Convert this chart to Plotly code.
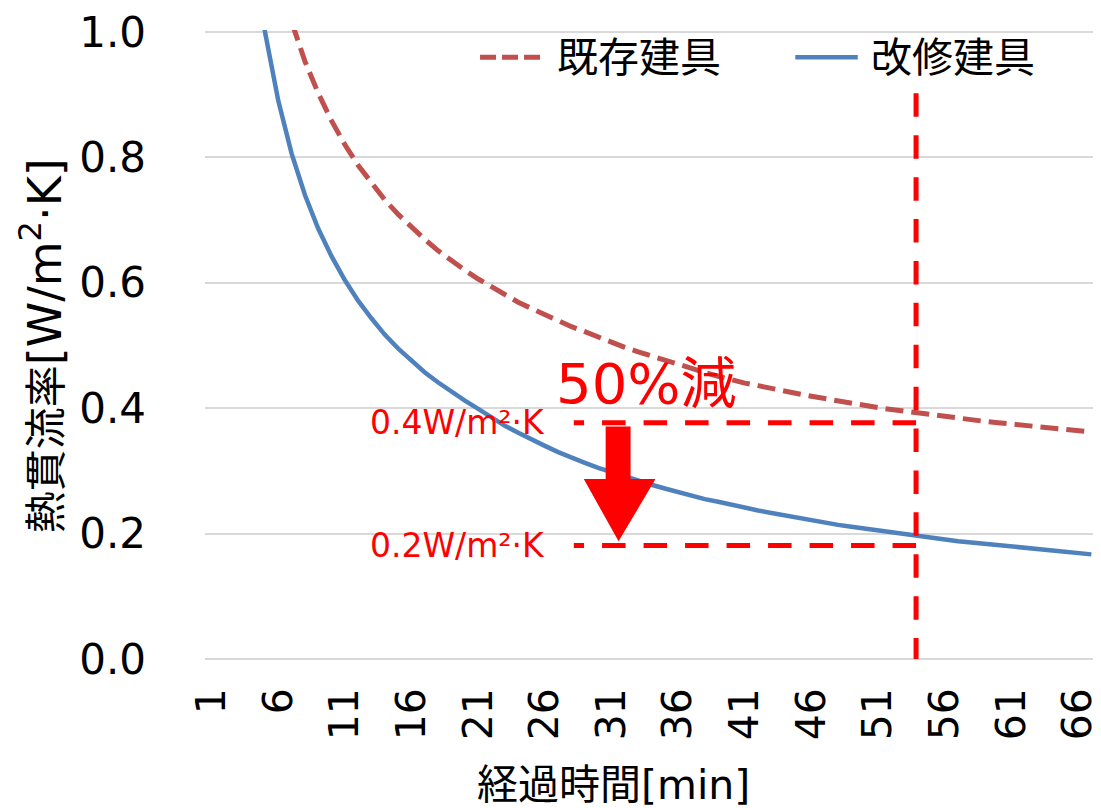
import plotly.graph_objects as go

# elapsed time categories [min]
minutes = list(range(1, 68))

# heat transmission rate [W/m2K], existing fittings (red dashed)
existing = [
    2.58, 1.853, 1.525, 1.329, 1.194, 1.094, 1.016, 0.953, 0.902, 0.858,
    0.820, 0.787, 0.758, 0.732, 0.709, 0.688, 0.669, 0.651, 0.635, 0.620,
    0.606, 0.593, 0.581, 0.569, 0.559, 0.549, 0.539, 0.530, 0.522, 0.513,
    0.506, 0.497, 0.490, 0.483, 0.476, 0.469, 0.463, 0.457, 0.451, 0.445,
    0.440, 0.436, 0.431, 0.427, 0.423, 0.419, 0.415, 0.412, 0.408, 0.405,
    0.401, 0.398, 0.395, 0.392, 0.389, 0.387, 0.384, 0.382, 0.379, 0.377,
    0.375, 0.372, 0.370, 0.368, 0.366, 0.364, 0.362,
]

# heat transmission rate [W/m2K], renovated fittings (blue solid)
renovated = [
    2.80, 1.80, 1.387, 1.153, 1.000, 0.890, 0.806, 0.740, 0.686, 0.642,
    0.604, 0.571, 0.543, 0.517, 0.495, 0.475, 0.457, 0.441, 0.426, 0.412,
    0.399, 0.385, 0.372, 0.361, 0.350, 0.340, 0.330, 0.321, 0.313, 0.305,
    0.298, 0.291, 0.284, 0.278, 0.272, 0.266, 0.261, 0.255, 0.251, 0.246,
    0.241, 0.237, 0.233, 0.229, 0.225, 0.221, 0.218, 0.214, 0.211, 0.208,
    0.205, 0.202, 0.199, 0.196, 0.194, 0.191, 0.188, 0.186, 0.184, 0.181,
    0.179, 0.177, 0.175, 0.173, 0.171, 0.169, 0.167,
]

x_ticks = list(range(1, 67, 5))
y_ticks = [0.0, 0.2, 0.4, 0.6, 0.8, 1.0]

# annotation markers
mark_time = 53.85
mark_high = 0.377
mark_low = 0.181
guide_start = 28.17

FONT = "DejaVu Sans, Noto Sans CJK JP, sans-serif"
RED_LINE = "#C0504D"
BLUE_LINE = "#4F81BD"
MARK_RED = "#FF0000"
GRID = "#D9D9D9"

fig = go.Figure()

fig.add_trace(
    go.Scatter(
        x=minutes,
        y=existing,
        mode="lines",
        name="既存建具",
        line={"color": RED_LINE, "width": 5, "dash": "18px,8px"},
        showlegend=False,
    )
)
fig.add_trace(
    go.Scatter(
        x=minutes,
        y=renovated,
        mode="lines",
        name="改修建具",
        line={"color": BLUE_LINE, "width": 4.5},
        showlegend=False,
    )
)

shapes = [
    # vertical marker
    {"type": "line", "xref": "x", "yref": "y", "x0": mark_time, "x1": mark_time,
     "y0": 0.902, "y1": 0.0,
     "line": {"color": MARK_RED, "width": 5, "dash": "23.5px,18.4px"}},
    # horizontal guides
    {"type": "line", "xref": "x", "yref": "y", "x0": mark_time, "x1": guide_start,
     "y0": mark_high, "y1": mark_high,
     "line": {"color": MARK_RED, "width": 5, "dash": "23.5px,18px"}},
    {"type": "line", "xref": "x", "yref": "y", "x0": mark_time, "x1": guide_start,
     "y0": mark_low, "y1": mark_low,
     "line": {"color": MARK_RED, "width": 5, "dash": "23.5px,18px"}},
    # down arrow
    {"type": "path", "xref": "x", "yref": "y",
     "path": "M 30.56 0.371 L 32.43 0.371 L 32.43 0.287 L 34.30 0.287 "
             "L 31.53 0.188 L 28.92 0.287 L 30.56 0.287 Z",
     "fillcolor": MARK_RED, "line": {"width": 0}},
    # legend samples
    {"type": "line", "xref": "paper", "yref": "paper", "x0": 0.308, "x1": 0.377,
     "y0": 0.957, "y1": 0.957,
     "line": {"color": RED_LINE, "width": 5, "dash": "16px,6px"}},
    {"type": "line", "xref": "paper", "yref": "paper", "x0": 0.661, "x1": 0.731,
     "y0": 0.957, "y1": 0.957,
     "line": {"color": BLUE_LINE, "width": 4.5}},
]

annotations = [
    {"text": "既存建具", "xref": "paper", "yref": "paper", "x": 0.392, "y": 0.955,
     "xanchor": "left", "yanchor": "middle", "showarrow": False,
     "font": {"size": 41, "color": "black"}},
    {"text": "改修建具", "xref": "paper", "yref": "paper", "x": 0.744, "y": 0.955,
     "xanchor": "left", "yanchor": "middle", "showarrow": False,
     "font": {"size": 41, "color": "black"}},
    {"text": "50%減", "xref": "x", "yref": "y", "x": 33.6, "y": 0.44,
     "xanchor": "center", "yanchor": "middle", "showarrow": False,
     "font": {"size": 56, "color": MARK_RED}},
    {"text": "0.4W/m²·K", "xref": "x", "yref": "y", "x": 26.15, "y": mark_high,
     "xanchor": "right", "yanchor": "middle", "showarrow": False,
     "font": {"size": 33, "color": MARK_RED}},
    {"text": "0.2W/m²·K", "xref": "x", "yref": "y", "x": 26.15, "y": mark_low,
     "xanchor": "right", "yanchor": "middle", "showarrow": False,
     "font": {"size": 33, "color": MARK_RED}},
    # axis titles
    {"text": "経過時間[min]", "xref": "paper", "yref": "paper", "x": 0.458, "y": -0.196,
     "xanchor": "center", "yanchor": "middle", "showarrow": False,
     "font": {"size": 41, "color": "black"}},
    {"text": "熱貫流率<span style='font-size:46px'>[W/m<sup>2</sup>·K]</span>",
     "xref": "paper", "yref": "paper",
     "x": -0.184, "y": 0.5, "xanchor": "center", "yanchor": "middle",
     "textangle": -90, "showarrow": False,
     "font": {"size": 42, "color": "black"}},
]

# the page body adds an 8px offset, so the figure is sized to fit inside it
fig.update_layout(
    width=1093,
    height=800,
    margin={"l": 197, "r": 0, "t": 18, "b": 147},
    paper_bgcolor="white",
    plot_bgcolor="white",
    font={"family": FONT, "color": "black"},
    shapes=shapes,
    annotations=annotations,
    showlegend=False,
)

fig.update_xaxes(
    range=[0.5, 67.5],
    tickvals=x_ticks,
    ticktext=[str(t) for t in x_ticks],
    tickangle=-90,
    tickfont={"size": 41, "color": "black"},
    ticklabeloverflow="allow",
    showgrid=False,
    zeroline=False,
    showline=False,
    ticks="",
    ticklabelstandoff=18,
)
fig.update_yaxes(
    range=[-0.003, 1.003],
    tickvals=y_ticks,
    tickformat=".1f",
    tickfont={"size": 42, "color": "black"},
    ticklabeloverflow="allow",
    showgrid=True,
    gridcolor=GRID,
    gridwidth=2,
    zeroline=False,
    showline=False,
    ticks="",
    ticklabelstandoff=58,
)

fig.write_html("out.html")
